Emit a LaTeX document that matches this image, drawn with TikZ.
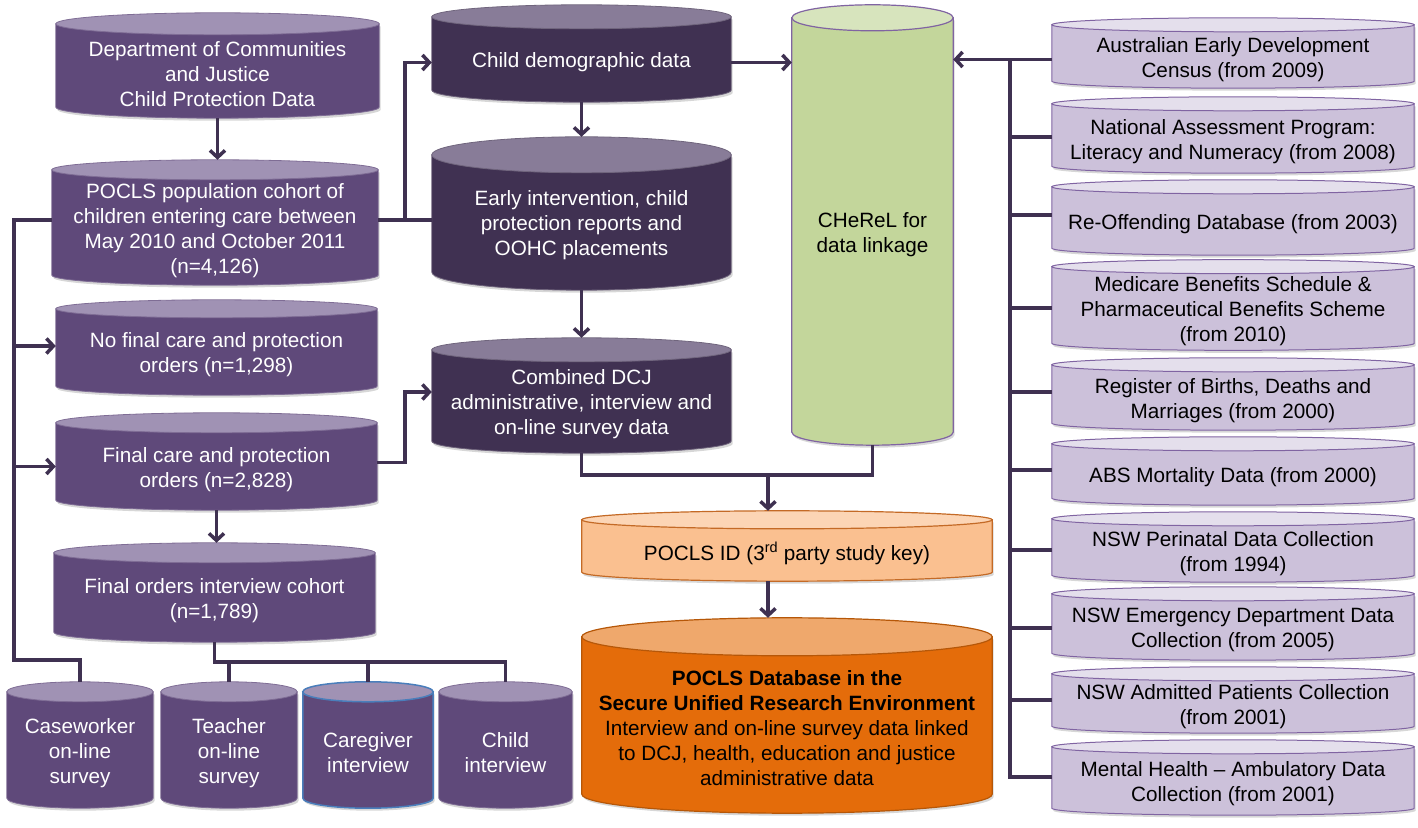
\documentclass[tikz,border=0pt]{standalone}
\usepackage{fontspec}
\setmainfont{Liberation Sans}
\usetikzlibrary{arrows.meta,calc,backgrounds,shadows}

\definecolor{midpurple}{HTML}{5F497A}
\definecolor{midpurpletop}{HTML}{A092B4}
\definecolor{darkpurple}{HTML}{403152}
\definecolor{darkpurpletop}{HTML}{887C98}
\definecolor{lilac}{HTML}{CCC1DA}
\definecolor{lilactop}{HTML}{E4DFEC}
\definecolor{lilacedge}{HTML}{8064A2}
\definecolor{linkgreen}{HTML}{C3D69B}
\definecolor{linkgreentop}{HTML}{D7E4BD}
\definecolor{peach}{HTML}{FAC090}
\definecolor{peachtop}{HTML}{FCD5B5}
\definecolor{peachedge}{HTML}{C46A26}
\definecolor{burnt}{HTML}{E46C0A}
\definecolor{burnttop}{HTML}{EFA86C}
\definecolor{burntedge}{HTML}{B65708}
\definecolor{connline}{HTML}{3F3151}
\definecolor{careblue}{HTML}{4A7EBB}

% text sits a little below the middle of each cylinder
\newcommand\cyldrop{3}
\newcommand\dbcyl[4]{%
  \path[#3] let \p1=(#1.north west), \p2=(#1.south east), \n1={(\x2-\x1)/2} in
    (\x1,\y1+#2+\cyldrop) -- (\x1,\y2+\cyldrop) arc[start angle=180, end angle=360, x radius=\n1, y radius=#2pt]
    -- (\x2,\y1+#2+\cyldrop) -- cycle;
  \path[#4] let \p1=(#1.north west), \p2=(#1.north east), \n1={(\x2-\x1)/2} in
    ($(#1.north)+(0,#2+\cyldrop)$) ellipse[x radius=\n1, y radius=#2pt];
  \coordinate (#1-top) at ($(#1.north)+(0,2*#2+\cyldrop)$);
  \coordinate (#1-bot) at ($(#1.south)+(0,-#2+\cyldrop)$);
}

\begin{document}
\begin{tikzpicture}[x=1pt, y=1pt,
    db text/.style={align=center, inner sep=0pt, yshift=-\cyldrop pt, font=\fontsize{20.7}{25}\selectfont},
    purple db/.style={db text, text=white},
    light db/.style={db text, text=black},
    source db/.style={light db, minimum width=362pt},
    cyl shadow/.style={drop shadow={shadow xshift=1.5pt, shadow yshift=-2.5pt, opacity=.35, fill=black!45}},
    mid body/.style={fill=midpurple, draw=midpurple!80!white, line width=0.8pt, cyl shadow},
    mid top/.style={fill=midpurpletop, draw=midpurple!80!white, line width=0.8pt},
    dark body/.style={fill=darkpurple, draw=darkpurple!75!white, line width=0.8pt, cyl shadow},
    dark top/.style={fill=darkpurpletop, draw=darkpurple!75!white, line width=0.8pt},
    source body/.style={fill=lilac, draw=lilacedge, line width=1pt, cyl shadow},
    source top/.style={fill=lilactop, draw=lilacedge, line width=1pt},
    link body/.style={fill=linkgreen, draw=lilacedge, line width=1.2pt, cyl shadow},
    link top/.style={fill=linkgreentop, draw=lilacedge, line width=1.2pt},
    key body/.style={fill=peach, draw=peachedge, line width=1.2pt, cyl shadow},
    key top/.style={fill=peachtop, draw=peachedge, line width=1.2pt},
    final body/.style={fill=burnt, draw=burntedge, line width=1.2pt, cyl shadow},
    final top/.style={fill=burnttop, draw=burntedge, line width=1.2pt},
    conn/.style={draw=connline, line width=3.5pt},
    conn arrow/.style={conn, -{Straight Barb[length=7pt,width=15pt]}}
]
\useasboundingbox (0,0) rectangle (1418,827);

% left column
\node[purple db, minimum width=323pt, minimum height=72pt] (dcj) at (217.5,756) {Department of Communities\\and Justice\\Child Protection Data};
\node[purple db, minimum width=326pt, minimum height=95pt] (cohort) at (215,599.5) {POCLS population cohort of\\children entering care between\\May 2010 and October 2011\\(n=4,126)};
\node[purple db, minimum width=321pt, minimum height=68pt] (nofinal) at (216.5,475) {No final care and protection\\orders (n=1,298)};
\node[purple db, minimum width=321pt, minimum height=67pt] (finalcare) at (216.5,360.5) {Final care and protection\\orders (n=2,828)};
\node[purple db, minimum width=321pt, minimum height=69pt] (finalorders) at (214.5,229.5) {Final orders interview cohort\\(n=1,789)};

% survey and interview row
\node[purple db, minimum width=146pt, minimum height=96pt] (casew) at (80,77) {Caseworker\\on-line\\survey};
\node[purple db, minimum width=136pt, minimum height=96pt] (teacher) at (229,77) {Teacher\\on-line\\survey};
\node[purple db, minimum width=130pt, minimum height=96pt] (caregiver) at (368,77) {Caregiver\\interview};
\node[purple db, minimum width=133pt, minimum height=96pt] (child) at (505.5,77) {Child\\interview};

% middle column
\node[purple db, minimum width=299pt, minimum height=61pt] (chdemo) at (581.5,767.5) {Child demographic data};
\node[purple db, minimum width=299pt, minimum height=99pt] (early) at (581.5,604.5) {Early intervention, child\\protection reports and\\OOHC placements};
\node[purple db, minimum width=299pt, minimum height=79pt] (combined) at (581.5,425.5) {Combined DCJ\\administrative, interview and\\on-line survey data};
\node[light db, minimum width=161pt, minimum height=401pt] (cherel) at (872.5,595.5) {CHeReL for\\data linkage};
\node[light db, minimum width=410pt, minimum height=43pt] (pid) at (787,276.5) {POCLS ID (3\textsuperscript{rd} party study key)};
\node[light db, minimum width=410pt, minimum height=138pt] (db) at (787,102) {\textbf{POCLS Database in the}\\\textbf{Secure Unified Research Environment}\\Interview and on-line survey data linked\\to DCJ, health, education and justice\\administrative data};

% linked data sources
\node[source db, minimum height=49pt] (aedc) at (1233,770.5) {Australian Early Development\\Census (from 2009)};
\node[source db, minimum height=55pt] (nap) at (1233,688.5) {National Assessment Program:\\Literacy and Numeracy (from 2008)};
\node[source db, minimum height=54pt] (rod) at (1233,606) {Re-Offending Database (from 2003)};
\node[source db, minimum height=69pt] (mbs) at (1233,518.5) {Medicare Benefits Schedule \&\\Pharmaceutical Benefits Scheme\\(from 2010)};
\node[source db, minimum height=51pt] (rbdm) at (1233,429.5) {Register of Births, Deaths and\\Marriages (from 2000)};
\node[source db, minimum height=47pt] (abs) at (1233,352.5) {ABS Mortality Data (from 2000)};
\node[source db, minimum height=49pt] (peri) at (1233,276.5) {NSW Perinatal Data Collection\\(from 1994)};
\node[source db, minimum height=52pt] (ed) at (1233,200) {NSW Emergency Department Data\\Collection (from 2005)};
\node[source db, minimum height=45pt] (apc) at (1233,123.5) {NSW Admitted Patients Collection\\(from 2001)};
\node[source db, minimum height=54pt] (mh) at (1233,46) {Mental Health – Ambulatory Data\\Collection (from 2001)};

\begin{scope}[on background layer]
  \dbcyl{dcj}{11}{mid body}{mid top}
  \dbcyl{cohort}{10}{mid body}{mid top}
  \dbcyl{nofinal}{9}{mid body}{mid top}
  \dbcyl{finalcare}{10}{mid body}{mid top}
  \dbcyl{finalorders}{10}{mid body}{mid top}
  \dbcyl{casew}{10}{mid body}{mid top}
  \dbcyl{teacher}{10}{mid body}{mid top}
  \dbcyl{caregiver}{10}{{mid body, draw=careblue, line width=1.5pt}}{{mid top, draw=careblue, line width=1.5pt}}
  \dbcyl{child}{10}{mid body}{mid top}
  \dbcyl{chdemo}{12}{dark body}{dark top}
  \dbcyl{early}{18}{dark body}{dark top}
  \dbcyl{combined}{12}{dark body}{dark top}
  \dbcyl{cherel}{13}{link body}{link top}
  \dbcyl{pid}{9}{key body}{key top}
  \dbcyl{db}{19}{final body}{final top}
  \foreach \src in {aedc,nap,rod,mbs,rbdm,abs,peri,ed,apc,mh}{
    \dbcyl{\src}{7}{source body}{source top}
  }
\end{scope}

\coordinate (lbus) at (14,167);
\coordinate (mbus) at (405,607);
\coordinate (jn) at (768,352);
\coordinate (sbus) at (214,165);
\coordinate (rbus) at (1010,0);
\coordinate (nofinal-in) at ([yshift=9pt]nofinal.west);
\coordinate (finalcare-in) at ([yshift=3pt]finalcare.west);

\draw[conn arrow] (dcj-bot) -- (dcj-bot |- cohort-top);
\draw[conn arrow] (finalcare-bot) -- (finalcare-bot |- finalorders-top);
\draw[conn] ([yshift=10.5pt]cohort.west) -| (lbus) -| (casew-top);
\draw[conn arrow] (lbus |- nofinal-in) -- (nofinal-in);
\draw[conn arrow] (lbus |- finalcare-in) -- (finalcare-in);

\draw[conn] (cohort.east |- mbus) -- (early.west |- mbus);
\draw[conn arrow] (mbus) |- (chdemo.west);
\draw[conn arrow] (chdemo-bot) -- (early-top);
\draw[conn arrow] (early-bot) -- (combined-top);
\draw[conn arrow] (chdemo.east) -- (chdemo.east -| cherel.west);
\draw[conn arrow] ([yshift=7pt]finalcare.east) -- ++(28,0) |- ([yshift=12.5pt]combined.west);

\draw[conn] (combined-bot) |- (jn) -| (cherel-bot);
\draw[conn arrow] (jn) -- (jn |- pid-top);
\draw[conn arrow] (jn |- pid-bot) -- (jn |- db-top);

\draw[conn] (finalorders-bot) |- (child-top |- sbus) -- (child-top);
\foreach \src in {teacher,caregiver}
  \draw[conn] (\src-top |- sbus) -- (\src-top);

\draw[conn arrow] (aedc.west) -- (aedc.west -| cherel.east);
\draw[conn] (rbus |- aedc.west) |- ([yshift=7pt]mh.west);
\foreach \src/\dy in {nap/4.5,rod/9,mbs/3.5,rbdm/8.5,abs/7.5,peri/3.5,ed/2,apc/6.5}{
  \coordinate (\src-in) at ([yshift=\dy pt]\src.west);
  \draw[conn] (\src-in) -- (\src-in -| rbus);
}
\end{tikzpicture}
\end{document}
